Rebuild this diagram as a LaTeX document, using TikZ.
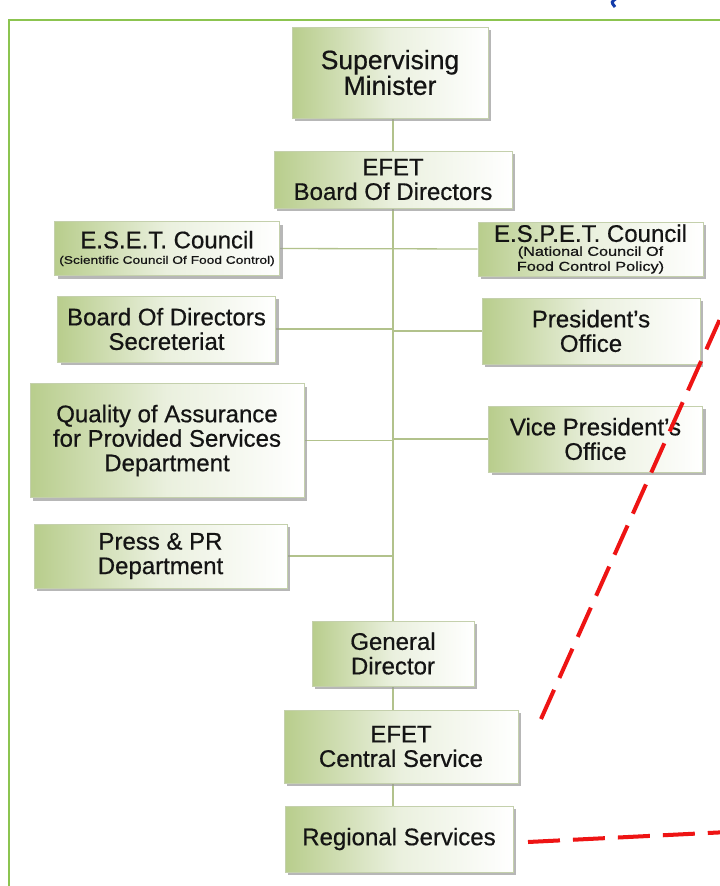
\documentclass[tikz,border=0pt]{standalone}
\usepackage{fontspec}
\setmainfont{Liberation Sans}[FakeBold=0.6]
\usetikzlibrary{shadows,backgrounds}
\definecolor{boxg}{RGB}{184,205,140}
\definecolor{boxm}{RGB}{234,240,222}
\definecolor{boxedge}{RGB}{196,208,172}
\definecolor{conn}{RGB}{178,194,140}
\definecolor{frameg}{RGB}{140,196,80}
\definecolor{txt}{RGB}{20,20,20}
\definecolor{reddash}{RGB}{238,20,20}
\definecolor{titleblue}{RGB}{20,60,170}
\newcommand{\subA}[1]{{\fontsize{11}{12}\selectfont\scalebox{1.25}[1]{#1}}}
\newcommand{\subB}[1]{{\fontsize{13}{15}\selectfont\scalebox{1.25}[1]{#1}}}
\begin{document}
\begin{tikzpicture}[x=1pt,y=-1pt,
  orgbox/.style={draw=boxedge, line width=0.8pt, left color=boxg, right color=white, middle color=boxm,
    drop shadow={shadow xshift=3pt, shadow yshift=-3pt, fill=black!40, opacity=0.7},
    inner sep=0pt, align=center, text=txt, font=\fontsize{24}{24.5}\selectfont},
  conline/.style={draw=conn, line width=1.3pt},
  redline/.style={draw=reddash, line width=4pt, dash pattern=on 32pt off 13pt},
]
\useasboundingbox (0,0) rectangle (720,886);
\clip (0,0) rectangle (720,886);

\node[orgbox, minimum width=196, minimum height=91, font=\fontsize{26.5}{24}\selectfont] (sup) at (390,72.5) {Supervising\\Minister};
\node[orgbox, minimum width=238, minimum height=57] (board) at (393,179.5) {EFET\\Board Of Directors};
\node[orgbox, minimum width=225, minimum height=54] (eset) at (167,248.5) {E.S.E.T. Council\\[-9pt]\subA{(Scientific Council Of Food Control)}};
\node[orgbox, minimum width=225, minimum height=54, font={\fontsize{24}{24.5}\selectfont\lineskiplimit=-30pt}] (espet) at (590.5,249) {E.S.P.E.T. Council\\[-10.5pt]\subB{(National Council Of}\\[-9.5pt]\subB{Food Control Policy)}};
\node[orgbox, minimum width=218, minimum height=66] (secr) at (166.5,329) {Board Of Directors\\Secreteriat};
\node[orgbox, minimum width=218, minimum height=66] (pres) at (591,331) {President’s\\Office};
\node[orgbox, minimum width=274, minimum height=114] (qual) at (167,440.5) {Quality of Assurance\\for Provided Services\\Department};
\node[orgbox, minimum width=214, minimum height=66] (vice) at (595.5,439) {Vice President’s\\Office};
\node[orgbox, minimum width=253, minimum height=64] (press) at (160.5,556) {Press \& PR\\Department};
\node[orgbox, minimum width=162, minimum height=65] (gd) at (393,653.5) {General\\Director};
\node[orgbox, minimum width=234, minimum height=73] (central) at (401,746.5) {EFET\\Central Service};
\node[orgbox, minimum width=228, minimum height=66] (regional) at (399,839) {Regional Services};

\begin{scope}[on background layer]
\fill[white] (0,0) rectangle (720,886);
\draw[frameg, line width=2pt] (9,900) -- (9,20) -- (730,20);
\draw[conline] (sup.south -| gd.north) -- (gd.north);
\draw[conline] (eset.east) -- (espet.west);
\draw[conline] (secr.east) -- (secr.east -| gd.north);
\draw[conline] (pres.west) -- (pres.west -| gd.north);
\draw[conline] (qual.east) -- (qual.east -| gd.north);
\draw[conline] (vice.west) -- (vice.west -| gd.north);
\draw[conline] (press.east) -- (press.east -| gd.north);
\draw[conline] (gd.south) -- (gd.south |- central.north);
\draw[conline] (gd.south |- central.south) -- (gd.south |- regional.north);
\end{scope}

\draw[titleblue, line width=3pt] (617,-2) .. controls (611,2) .. (615,7);

\coordinate (ra1) at (541,719);
\coordinate (ra2) at (728,301);
\coordinate (rb1) at (528,842);
\coordinate (rb2) at (728,832);
\draw[redline] (ra1) -- (ra2);
\draw[redline] (rb1) -- (rb2);
\end{tikzpicture}
\end{document}
